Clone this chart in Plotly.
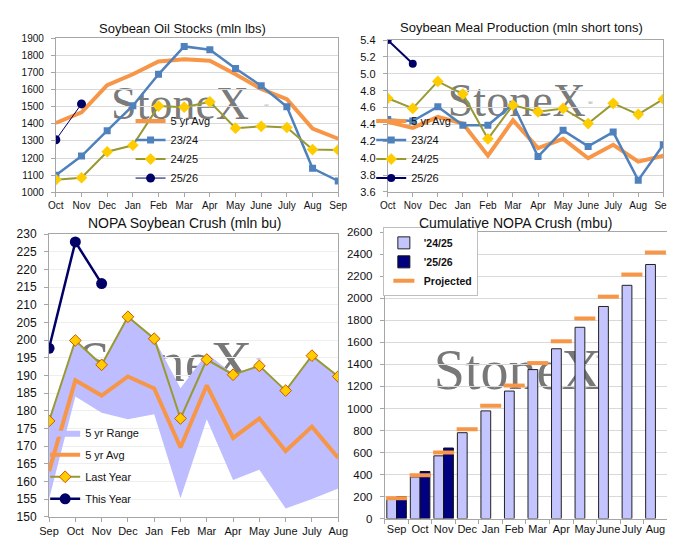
import plotly.graph_objects as go

W, H = 675, 541

# ---------------- data ----------------
months_oil = ['Oct', 'Nov', 'Dec', 'Jan', 'Feb', 'Mar', 'Apr', 'May', 'June', 'July', 'Aug', 'Sep']
oil_avg = [1405, 1468, 1627, 1690, 1765, 1778, 1769, 1690, 1604, 1544, 1373, 1313]
oil_2324 = [1100, 1212, 1360, 1506, 1690, 1853, 1834, 1724, 1623, 1500, 1140, 1066]
oil_2425 = [1074, 1085, 1237, 1275, 1504, 1498, 1529, 1375, 1386, 1379, 1250, 1248]
oil_2526 = [1307, 1517]

meal_avg = [4.43, 4.36, 4.49, 4.41, 4.03, 4.45, 4.12, 4.23, 4.00, 4.16, 3.96, 4.03]
meal_2324 = [4.46, 4.44, 4.61, 4.39, 4.39, 4.64, 4.02, 4.33, 4.14, 4.31, 3.74, 4.16]
meal_2425 = [4.71, 4.59, 4.91, 4.76, 4.23, 4.63, 4.55, 4.59, 4.41, 4.65, 4.52, 4.70]
meal_2526 = [5.40, 5.12]

months_crush = ['Sep', 'Oct', 'Nov', 'Dec', 'Jan', 'Feb', 'Mar', 'Apr', 'May', 'June', 'July', 'Aug']
crush_hi = [177.1, 199.5, 193.0, 206.6, 200.4, 186.4, 196.2, 190.4, 192.7, 185.7, 195.6, 189.7]
crush_lo = [155.0, 184.0, 179.4, 177.6, 179.0, 155.2, 177.6, 160.4, 163.3, 152.3, 155.0, 158.0]
crush_avg = [162.9, 188.6, 184.3, 189.7, 186.3, 169.6, 187.2, 172.3, 177.8, 168.6, 175.5, 166.6]
crush_last = [177.1, 199.9, 193.0, 206.6, 200.4, 177.8, 194.5, 190.2, 192.7, 185.7, 195.6, 189.7]
crush_this = [197.7, 227.8, 216.0]

cum_2425 = [177, 378, 570, 780, 978, 1158, 1353, 1542, 1737, 1926, 2118, 2307]
cum_2526 = [198, 428, 641]
cum_proj = [186, 393, 600, 812, 1025, 1208, 1412, 1610, 1817, 2015, 2216, 2417]

# ---------------- style ----------------
ORANGE = '#F79646'
BLUE = '#4F81BD'
OLIVE = '#999933'
YELLOW = '#FFCC00'
NAVY = '#000066'
RANGE = '#BDBDFF'
FONT = 'Liberation Sans'


def px(x):
    return x / W


def py(y):
    return 1 - y / H


fig = go.Figure()

# ---- Panel 1: Soybean Oil Stocks ----
fig.add_trace(go.Scatter(x=months_oil, y=oil_avg, name='5 yr Avg', mode='lines',
                         line=dict(color=ORANGE, width=4), xaxis='x', yaxis='y',
                         legend='legend', legendgroup='a1'))
fig.add_trace(go.Scatter(x=months_oil, y=oil_2324, name='23/24', mode='lines+markers',
                         line=dict(color=BLUE, width=2.5), marker=dict(symbol='square', size=7, color=BLUE),
                         xaxis='x', yaxis='y', legend='legend', legendgroup='a2'))
fig.add_trace(go.Scatter(x=months_oil, y=oil_2425, name='24/25', mode='lines+markers',
                         line=dict(color=OLIVE, width=2), marker=dict(symbol='diamond', size=9, color=YELLOW),
                         xaxis='x', yaxis='y', legend='legend', legendgroup='a3'))
fig.add_trace(go.Scatter(x=months_oil[:len(oil_2526)], y=oil_2526, name='25/26', mode='lines+markers',
                         line=dict(color=NAVY, width=1), marker=dict(symbol='circle', size=9, color=NAVY),
                         xaxis='x', yaxis='y', legend='legend', legendgroup='a4'))

# ---- Panel 2: Soybean Meal Production ----
fig.add_trace(go.Scatter(x=months_oil, y=meal_avg, name='5 yr Avg', mode='lines',
                         line=dict(color=ORANGE, width=4), xaxis='x2', yaxis='y2',
                         legend='legend2', legendgroup='b1'))
fig.add_trace(go.Scatter(x=months_oil, y=meal_2324, name='23/24', mode='lines+markers',
                         line=dict(color=BLUE, width=2.5), marker=dict(symbol='square', size=7, color=BLUE),
                         xaxis='x2', yaxis='y2', legend='legend2', legendgroup='b2'))
fig.add_trace(go.Scatter(x=months_oil, y=meal_2425, name='24/25', mode='lines+markers',
                         line=dict(color=OLIVE, width=2), marker=dict(symbol='diamond', size=9, color=YELLOW),
                         xaxis='x2', yaxis='y2', legend='legend2', legendgroup='b3'))
fig.add_trace(go.Scatter(x=months_oil[:len(meal_2526)], y=meal_2526, name='25/26', mode='lines+markers',
                         line=dict(color=NAVY, width=2), marker=dict(symbol='circle', size=8, color=NAVY),
                         xaxis='x2', yaxis='y2', legend='legend2', legendgroup='b4'))

# ---- Panel 3: NOPA Soybean Crush ----
fig.add_trace(go.Scatter(x=months_crush + months_crush[::-1], y=crush_hi + crush_lo[::-1],
                         name='5 yr Range', mode='lines', fill='toself', fillcolor=RANGE,
                         line=dict(width=0, color=RANGE), xaxis='x3', yaxis='y3',
                         legend='legend3', legendgroup='c1'))
fig.add_trace(go.Scatter(x=months_crush, y=crush_avg, name='5 yr Avg', mode='lines',
                         line=dict(color=ORANGE, width=4), xaxis='x3', yaxis='y3',
                         legend='legend3', legendgroup='c2'))
fig.add_trace(go.Scatter(x=months_crush, y=crush_last, name='Last Year', mode='lines+markers',
                         line=dict(color=OLIVE, width=2),
                         marker=dict(symbol='diamond', size=9, color=YELLOW, line=dict(color='#CC5500', width=1)),
                         xaxis='x3', yaxis='y3', legend='legend3', legendgroup='c3'))
fig.add_trace(go.Scatter(x=months_crush[:len(crush_this)], y=crush_this, name='This Year', mode='lines+markers',
                         line=dict(color=NAVY, width=2.5), marker=dict(symbol='circle', size=11, color=NAVY),
                         xaxis='x3', yaxis='y3', legend='legend3', legendgroup='c4'))

# ---- Panel 4: Cumulative NOPA Crush ----
fig.add_trace(go.Bar(x=months_crush, y=cum_2425, name="'24/25",
                     marker=dict(color='#C4C4FF', line=dict(color='#222222', width=1)),
                     xaxis='x4', yaxis='y4', legend='legend4', legendgroup='d1'))
fig.add_trace(go.Bar(x=months_crush[:len(cum_2526)], y=cum_2526, name="'25/26",
                     marker=dict(color='#000080', line=dict(color='#111111', width=1)),
                     xaxis='x4', yaxis='y4', legend='legend4', legendgroup='d2'))
fig.add_trace(go.Scatter(x=months_crush, y=cum_proj, name='Projected', mode='markers',
                         marker=dict(symbol='line-ew', size=15, line=dict(color=ORANGE, width=4)),
                         xaxis='x4', yaxis='y4', legend='legend4', legendgroup='d3'))

# ---------------- axes ----------------
GRID = '#D9D9D9'
FRAME = '#A6A6A6'


def xax(dom, anchor, size, rng, boundaries=False):
    d = dict(domain=dom, anchor=anchor, type='category', range=rng, showgrid=False,
             showline=True, linecolor=FRAME, mirror=True, ticks='outside', ticklen=4, tickcolor=FRAME,
             tickangle=0,
             tickfont=dict(family=FONT, size=size, color='#111111'), fixedrange=True)
    if boundaries:
        d['tickson'] = 'boundaries'
    return d


def yax(dom, anchor, size, rng, dtick, fmt=None, grid=GRID):
    d = dict(domain=dom, anchor=anchor, range=rng, dtick=dtick, showgrid=True, gridcolor=grid,
             showline=True, linecolor=FRAME, mirror=True, ticks='outside', ticklen=4, tickcolor=FRAME,
             tickfont=dict(family=FONT, size=size, color='#111111'), zeroline=False, fixedrange=True,
             ticklabelstandoff=5)
    if fmt:
        d['tickformat'] = fmt
    return d


def leg(x, y, size, gap=0, **kw):
    d = dict(x=px(x), y=py(y), xanchor='left', yanchor='top', bgcolor='rgba(0,0,0,0)',
             font=dict(family=FONT, size=size, color='#111111'), itemwidth=30, tracegroupgap=gap)
    d.update(kw)
    return d


layout = dict(
    width=W, height=H, margin=dict(l=0, r=0, t=0, b=0),
    paper_bgcolor='white', plot_bgcolor='white',
    font=dict(family=FONT, color='#111111'),
    barmode='group', bargap=0.17, bargroupgap=0,
    xaxis=xax([px(39), px(330)], 'y', 10, [0, 11]),
    yaxis=yax([py(182), py(24)], 'x', 10, [1000, 1900], 100),
    xaxis2=xax([px(381), px(665)], 'y2', 10, [0, 11]),
    yaxis2=yax([py(181.7), py(25.7)], 'x2', 11, [3.6, 5.4], 0.2, '.1f'),
    xaxis3=xax([px(32), px(330)], 'y3', 11, [0, 11]),
    yaxis3=yax([py(515), py(225)], 'x3', 12, [150, 230], 5, grid='#EEEEEE'),
    xaxis4=xax([px(378), px(669)], 'y4', 11, [-0.5, 11.5], boundaries=True),
    yaxis4=yax([py(517), py(223)], 'x4', 11.5, [0, 2600], 200),
    legend=leg(116, 94, 11),
    legend2=leg(364, 94, 11),
    legend3=leg(28, 414, 11, gap=3),
    legend4=leg(376, 218, 10.5, bgcolor='white', bordercolor='#BFBFBF', borderwidth=1,
                font=dict(family=FONT, size=10.5, weight='bold', color='#111111')),
    showlegend=True,
)

titles = [
    ('Soybean Oil Stocks (mln lbs)', 170, 14, 13),
    ('Soybean Meal Production (mln short tons)', 519, 13, 13),
    ('NOPA Soybean Crush (mln bu)', 172, 214, 14),
    ('Cumulative NOPA Crush (mbu)', 513, 214, 14),
]
layout['annotations'] = [
    dict(text=t, x=px(xc), y=py(yc), xref='paper', yref='paper', xanchor='center', yanchor='middle',
         showarrow=False, font=dict(family=FONT, size=s, color='#111111'))
    for t, xc, yc, s in titles
]

# watermarks (drawn beneath the traces)
WM = 'rgba(105,105,105,0.9)'
marks = [
    (167, 86, 46, 256, 92),
    (514, 83, 46, 590, 89),
    (152, 350, 58, 248, 352),
    (515, 358, 56, 598, 350),
]
shapes = []
for cx, cy, s, rx, ry in marks:
    shapes.append(dict(type='rect', xref='paper', yref='paper', x0=px(cx - 100), x1=px(cx + 100),
                       y0=py(cy + 35), y1=py(cy - 35), line=dict(width=0), fillcolor='rgba(0,0,0,0)',
                       layer='between',
                       label=dict(text='StoneX', textposition='middle center',
                                  font=dict(family='Liberation Serif', size=s, color=WM))))
    shapes.append(dict(type='rect', xref='paper', yref='paper', x0=px(rx - 5), x1=px(rx + 5),
                       y0=py(ry + 5), y1=py(ry - 5), line=dict(width=0), fillcolor='rgba(0,0,0,0)',
                       layer='between',
                       label=dict(text='®', textposition='middle center',
                                  font=dict(family='Liberation Serif', size=7, color=WM))))
layout['shapes'] = shapes

fig.update_layout(**layout)
fig.write_html('out.html')
